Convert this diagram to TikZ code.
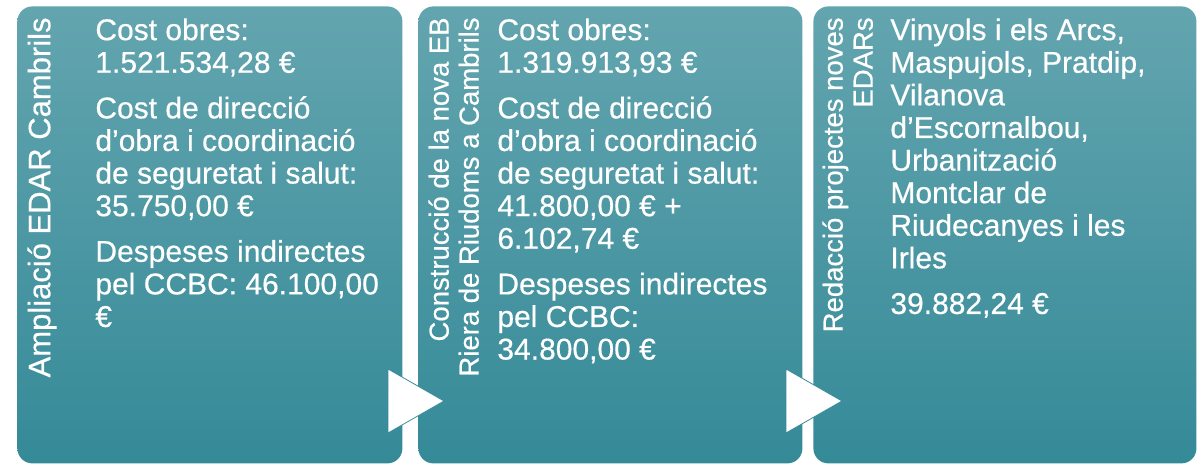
\documentclass[tikz,border=0pt]{standalone}
\usepackage{fontspec}
\setmainfont{Liberation Sans}[FakeBold=0.5]

\definecolor{stagetop}{HTML}{63A5AF}
\definecolor{stagebot}{HTML}{358A98}

\tikzset{
  stage/.style={rectangle, rounded corners=7.5pt, top color=stagetop, bottom color=stagebot,
    minimum height=228.5pt, anchor=north west, inner sep=0pt},
  title/.style={rotate=90, anchor=north east, align=right, text=white, inner sep=0pt},
  body/.style={anchor=north west, align=left, text=white, inner sep=0pt,
    font=\fontsize{15}{16.3}\selectfont},
  flowtip/.style={fill=white, draw=stagebot, line width=0.4pt}
}

\begin{document}
\begin{tikzpicture}[x=0.5pt, y=-0.5pt]
\useasboundingbox (0,0) rectangle (1204,464);

% three stages
\node[stage, minimum width=192.5pt] (ampl) at (17,6) {};
\node[stage, minimum width=192pt] (const) at (418,6) {};
\node[stage, minimum width=191.5pt] (redac) at (813,6) {};

% vertical headings
\node[title, font=\fontsize{15.5}{17}\selectfont] (amplT) at (27,17) {Ampliació EDAR Cambrils};
\node[title, font=\fontsize{13.75}{15}\selectfont] (constT) at (428,17)
  {Construcció de la nova EB\\Riera de Riudoms a Cambrils};
\node[title, font=\fontsize{13.75}{15}\selectfont] (redacT) at (822,17)
  {Redacció projectes noves\\EDARs};

% amounts
\node[body] (amplB) at (95,18) {Cost obres:\\1.521.534,28 €\\[6.5pt]
  Cost de direcció\\d’obra i coordinació\\de seguretat i salut:\\35.750,00 €\\[6.5pt]
  Despeses indirectes\\pel CCBC: 46.100,00\\€};
\node[body] (constB) at (497,18) {Cost obres:\\1.319.913,93 €\\[6.5pt]
  Cost de direcció\\d’obra i coordinació\\de seguretat i salut:\\41.800,00 € +\\6.102,74 €\\[6.5pt]
  Despeses indirectes\\pel CCBC:\\34.800,00 €};
\node[body] (redacB) at (890,18) {Vinyols i els Arcs,\\Maspujols, Pratdip,\\Vilanova\\d’Escornalbou,\\
  Urbanització\\Montclar de\\Riudecanyes i les\\Irles\\[6.5pt]39.882,24 €};

% arrows between stages
\filldraw[flowtip] (388,369) -- (444,401) -- (388,433) -- cycle;
\filldraw[flowtip] (786,369) -- (842,401) -- (786,433) -- cycle;
\end{tikzpicture}
\end{document}
